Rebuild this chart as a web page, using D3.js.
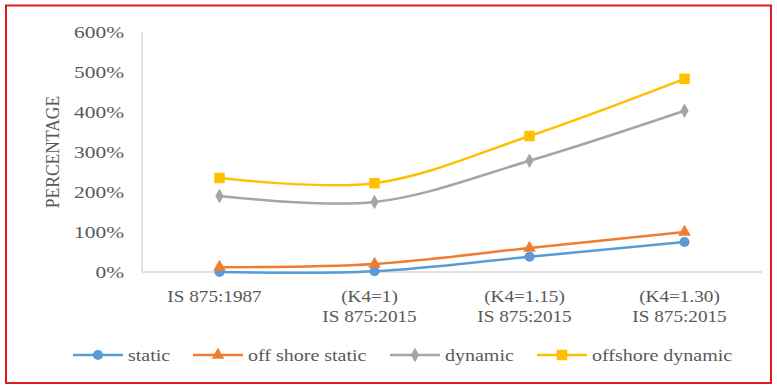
<!DOCTYPE html>
<html>
<head>
<meta charset="utf-8">
<script src="https://cdn.jsdelivr.net/npm/d3@7"></script>
<style>
  html, body { margin: 0; padding: 0; background: #fff; }
  svg { display: block; }
  text { font-family: "Liberation Serif", "Times New Roman", serif; fill: #595959; }
</style>
</head>
<body>
<svg id="chart" width="777" height="385"></svg>
<script>
// Code edition labels along the x axis (two lines each)
const categories = [
  ["IS 875:1987"],
  ["(K4=1)", "IS 875:2015"],
  ["(K4=1.15)", "IS 875:2015"],
  ["(K4=1.30)", "IS 875:2015"]
];
// Percentages per series
const staticVals          = [0, 2, 38, 75];
const offshoreStaticVals  = [12, 20, 60, 100];
const dynamicVals         = [190, 175, 278, 403];
const offshoreDynamicVals = [235, 222, 340, 483];
const seriesNames  = ["static", "off shore static", "dynamic", "offshore dynamic"];
const seriesColors = ["#5B9BD5", "#ED7D31", "#A5A5A5", "#FFC000"];
const seriesSymbols = ["circle", "triangle", "diamond", "square"];
const yTicks = [0, 100, 200, 300, 400, 500, 600];

const series = [staticVals, offshoreStaticVals, dynamicVals, offshoreDynamicVals].map((v, i) => ({
  name: seriesNames[i], values: v, color: seriesColors[i], symbol: seriesSymbols[i]
}));

const svg = d3.select("#chart");
const plot = { left: 142, right: 762, top: 32, bottom: 272 };
const textStretch = 1.3;

const x = d3.scaleBand().domain(d3.range(categories.length)).range([plot.left, plot.right]);
const y = d3.scaleLinear().domain([0, 600]).range([plot.bottom, plot.top]);

// outer frame
svg.append("rect")
  .attr("x", 6).attr("y", 5.5).attr("width", 765).attr("height", 377.5)
  .attr("fill", "none").attr("stroke", "#e0191f").attr("stroke-width", 2);

// axis lines
svg.append("line").attr("x1", plot.left).attr("x2", plot.left)
  .attr("y1", plot.top).attr("y2", plot.bottom)
  .attr("stroke", "#d9d9d9").attr("stroke-width", 1.5);
svg.append("line").attr("x1", plot.left).attr("x2", plot.right)
  .attr("y1", plot.bottom).attr("y2", plot.bottom)
  .attr("stroke", "#d9d9d9").attr("stroke-width", 1.5);

// y tick labels
svg.append("g").selectAll("text").data(yTicks).join("text")
  .attr("transform", d => `translate(124,${y(d) + 5.5}) scale(${textStretch},1)`)
  .attr("text-anchor", "end")
  .style("font-size", "16.5px")
  .text(d => d3.format(".0%")(d / 100));

// y axis title
svg.append("text")
  .attr("transform", "translate(59,152) rotate(-90) scale(1,1.13)")
  .attr("text-anchor", "middle")
  .style("font-size", "17.5px")
  .text("PERCENTAGE");

// x category labels
const xl = svg.append("g").selectAll("g").data(categories).join("g")
  .attr("transform", (d, i) => `translate(${x(i) + x.bandwidth() / 2 - 5},0)`);
xl.each(function (lines) {
  const g = d3.select(this);
  lines.forEach((t, k) => {
    g.append("text")
      .attr("transform", `translate(0,${302 + k * 20}) scale(1.2,1)`)
      .attr("text-anchor", "middle")
      .style("font-size", "16px")
      .text(t);
  });
});

// series lines
const line = d3.line()
  .x((d, i) => x(i) + x.bandwidth() / 2)
  .y(d => y(d))
  .curve(d3.curveCatmullRom.alpha(0.5));

const symbolType = { circle: d3.symbolCircle, triangle: d3.symbolTriangle, diamond: d3.symbolDiamond, square: d3.symbolSquare };
const symbolSize = { circle: 80, triangle: 70, diamond: 60, square: 110 };

const sg = svg.append("g").selectAll("g").data(series).join("g");
sg.append("path")
  .attr("d", d => line(d.values))
  .attr("fill", "none")
  .attr("stroke", d => d.color)
  .attr("stroke-width", 2.5);
sg.each(function (s) {
  d3.select(this).selectAll("path.m").data(s.values).join("path")
    .attr("class", "m")
    .attr("transform", (d, i) => `translate(${x(i) + x.bandwidth() / 2},${y(d)})`)
    .attr("d", d3.symbol().type(symbolType[s.symbol]).size(symbolSize[s.symbol]))
    .attr("fill", s.color);
});

// legend
const legendX = [73, 193, 390, 537];
const lg = svg.append("g").selectAll("g").data(series).join("g")
  .attr("transform", (d, i) => `translate(${legendX[i]},355)`);
lg.append("line").attr("x1", 0).attr("x2", 50)
  .attr("stroke", d => d.color).attr("stroke-width", 2.5);
lg.append("path")
  .attr("transform", "translate(25,0)")
  .attr("d", d => d3.symbol().type(symbolType[d.symbol]).size(symbolSize[d.symbol])())
  .attr("fill", d => d.color);
lg.append("text")
  .attr("transform", "translate(55,5.5) scale(1.25,1)")
  .style("font-size", "16px")
  .text(d => d.name);
</script>
</body>
</html>
